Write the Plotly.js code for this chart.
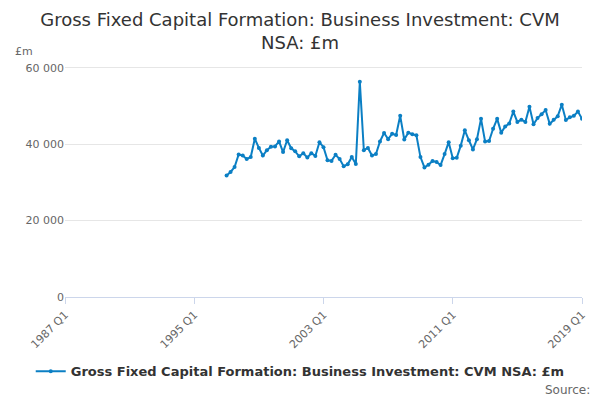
<!DOCTYPE html>
<html><head><meta charset="utf-8">
<script src="https://cdn.plot.ly/plotly-3.0.1.min.js"></script>
<style>body{margin:0}</style></head>
<body><div id="myDiv" style="width:600px;height:400px"></div>
<script>
var firstYear = 1997;
var values = [31.8, 32.7, 34.0, 37.3, 37.0, 36.1, 36.6, 41.4, 39.0, 37.0, 38.4, 39.3, 39.4, 40.7, 37.9, 41.0,
  38.9, 38.1, 36.8, 37.6, 36.5, 37.6, 36.9, 40.5, 39.2, 35.8, 35.6, 37.2, 36.1, 34.2, 34.7, 36.6, 34.8, 56.3,
  38.4, 39.0, 37.0, 37.4, 40.7, 42.9, 41.3, 42.7, 42.4, 47.4,
  41.2, 43.0, 42.6, 42.3, 36.6, 33.9, 34.6, 35.6, 35.3, 34.5, 37.4, 40.5, 36.3, 36.4, 39.6, 43.6, 41.0, 38.6,
  41.3, 46.6, 40.7, 40.8, 44.0, 46.6, 43.0, 44.6, 45.4, 48.5, 45.8, 46.4, 45.8, 49.8, 45.2, 46.8, 47.8, 48.9,
  45.3, 46.4, 47.3, 50.3, 46.3, 47.0, 47.4, 48.5, 46.6].map(function (v) { return v * 1000; });
var tickDates = ['1987-01-01', '1995-01-01', '2003-01-01', '2011-01-01', '2019-01-01'];
var tickLabels = ['1987 Q1', '1995 Q1', '2003 Q1', '2011 Q1', '2019 Q1'];
var seriesName = 'Gross Fixed Capital Formation: Business Investment: CVM NSA: £m';

// quarter start dates for each value
var dates = values.map(function (v, i) {
  var y = firstYear + Math.floor(i / 4);
  var m = (i % 4) * 3 + 1;
  return y + '-' + (m < 10 ? '0' : '') + m + '-01';
});

var data = [{
  x: dates, y: values, mode: 'lines+markers', name: '<b>' + seriesName + '</b>',
  line: { color: '#0b7fc4', width: 2 }, marker: { size: 4, color: '#0b7fc4' }
}];

var layout = {
  font: { family: 'DejaVu Sans, sans-serif', color: '#333' },
  separators: '. ',
  title: { text: 'Gross Fixed Capital Formation: Business Investment: CVM<br>NSA: £m', font: { size: 18, color: '#333' }, y: 0.935 },
  margin: { l: 65, r: 18, t: 60, b: 103 },
  xaxis: {
    type: 'date', range: ['1987-01-01', '2019-01-01'], tickvals: tickDates, ticktext: tickLabels,
    tickangle: -45, showgrid: false, showline: true, linecolor: '#ccd6eb', ticks: 'outside', tickcolor: '#ccd6eb',
    ticklen: 6, tickfont: { size: 11, color: '#666' }
  },
  yaxis: {
    range: [0, 62000], tickvals: [0, 20000, 40000, 60000], tickformat: ',', gridcolor: '#e6e6e6',
    zeroline: false, tickfont: { size: 11, color: '#666' }
  },
  showlegend: true,
  legend: { orientation: 'h', x: 0.455, xanchor: 'center', y: -0.25, font: { size: 13, color: '#333' } },
  annotations: [
    { text: '£m', xref: 'paper', yref: 'paper', x: -0.1, y: 1.07, xanchor: 'left', showarrow: false, font: { size: 11, color: '#666' } },
    { text: 'Source:', xref: 'paper', yref: 'paper', x: 1.02, y: -0.43, xanchor: 'right', showarrow: false, font: { size: 12, color: '#666' } }
  ]
};

Plotly.newPlot('myDiv', data, layout, { displayModeBar: false });
</script></body></html>
